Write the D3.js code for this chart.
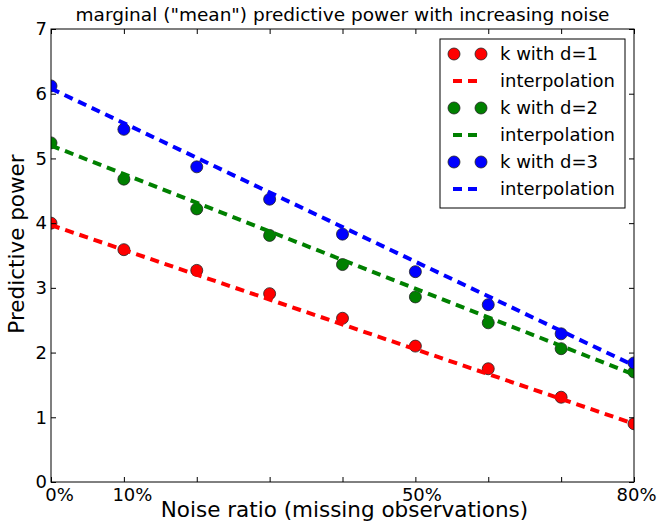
<!DOCTYPE html>
<meta charset="utf-8">
<style>
body { margin: 0; background: #fff; }
text { font-family: "DejaVu Sans", sans-serif; fill: #000; }
.frame { fill: none; stroke: #000; stroke-width: 1px; }
.fit { fill: none; stroke-width: 4px; stroke-dasharray: 9,6; }
</style>
<body>
<script src="https://d3js.org/d3.v7.min.js"></script>
<script>

var noise = [0, 0.1, 0.2, 0.3, 0.4, 0.5, 0.6, 0.7, 0.8];
var power_d1 = [4.00, 3.59, 3.27, 2.91, 2.53, 2.10, 1.75, 1.31, 0.90];
var power_d2 = [5.24, 4.68, 4.22, 3.81, 3.36, 2.86, 2.46, 2.06, 1.70];
var power_d3 = [6.12, 5.45, 4.87, 4.37, 3.83, 3.25, 2.74, 2.29, 1.84];
// interpolation lines, value at 0% and at 80%
var fitX = [0, 0.8];
var fit_d1 = [3.97, 0.90];
var fit_d2 = [5.20, 1.66];
var fit_d3 = [6.08, 1.80];
var xTicks = [0, 0.1, 0.2, 0.3, 0.4, 0.5, 0.6, 0.7, 0.8];
var xTickLabels = {0: "0%", 0.1: "10%", 0.5: "50%", 0.8: "80%"};
var yTicks = [0, 1, 2, 3, 4, 5, 6, 7];

var series = [
  {name: "k with d=1", color: "#ff0000", pts: power_d1, fit: fit_d1},
  {name: "k with d=2", color: "#008000", pts: power_d2, fit: fit_d2},
  {name: "k with d=3", color: "#0000ff", pts: power_d3, fit: fit_d3}
];

var margin = {top: 29, left: 51},
    w = 583, h = 453;

var x = d3.scaleLinear().domain([0, 0.8]).range([0, w]);
var y = d3.scaleLinear().domain([0, 7]).range([h, 0]);

var svg = d3.select("body").append("svg")
    .attr("width", 659)
    .attr("height", 522);

var g = svg.append("g")
    .attr("transform", "translate(" + margin.left + "," + margin.top + ")");

g.append("clipPath").attr("id", "clip")
  .append("rect").attr("width", w).attr("height", h);

var plot = g.append("g").attr("clip-path", "url(#clip)");

var line = d3.line()
    .x(function(d) { return x(d[0]); })
    .y(function(d) { return y(d[1]); });

series.forEach(function(s) {
  plot.selectAll(null)
      .data(s.pts)
    .enter().append("circle")
      .attr("cx", function(d, i) { return x(noise[i]); })
      .attr("cy", function(d) { return y(d); })
      .attr("r", 6)
      .style("fill", s.color)
      .style("stroke", "#222")
      .style("stroke-width", 0.8);

  plot.append("path")
      .datum(fitX.map(function(v, i) { return [v, s.fit[i]]; }))
      .attr("class", "fit")
      .style("stroke", s.color)
      .attr("d", line);
});

// frame
g.append("rect").attr("class", "frame").attr("width", w).attr("height", h);

// ticks (inward, all four sides)
var tl = 5;
var labelShift = function(d) { return d === 0.8 ? 2 : (d === 0.5 ? 6 : 8); };
g.append("g")
    .attr("transform", "translate(0," + h + ")")
    .call(d3.axisBottom(x).tickValues(xTicks).tickSizeInner(-tl).tickSizeOuter(0)
      .tickPadding(6).tickFormat(function(d) { return xTickLabels[d] || ""; }))
    .call(function(a) {
      a.select(".domain").remove();
      a.selectAll("text").attr("font-size", 18).attr("dx", labelShift)
        .style("font-family", "DejaVu Sans");
    });
g.append("g")
    .call(d3.axisTop(x).tickValues(xTicks).tickSizeInner(-tl).tickSizeOuter(0).tickFormat(""))
    .call(function(a) { a.select(".domain").remove(); });
g.append("g")
    .call(d3.axisLeft(y).tickValues(yTicks).tickSizeInner(-tl).tickSizeOuter(0)
      .tickPadding(4).tickFormat(d3.format("d")))
    .call(function(a) {
      a.select(".domain").remove();
      a.selectAll("text").attr("font-size", 18).style("font-family", "DejaVu Sans");
    });
g.append("g")
    .attr("transform", "translate(" + w + ",0)")
    .call(d3.axisRight(y).tickValues(yTicks).tickSizeInner(-tl).tickSizeOuter(0).tickFormat(""))
    .call(function(a) { a.select(".domain").remove(); });

// legend
var lg = g.append("g").attr("transform", "translate(389,10)");
lg.append("rect")
    .attr("width", 185).attr("height", 169)
    .style("fill", "#fff").style("stroke", "#000").style("stroke-width", 1);
series.forEach(function(s, i) {
  var y0 = 15 + i * 54;
  [14, 41].forEach(function(cx) {
    lg.append("circle").attr("cx", cx).attr("cy", y0).attr("r", 6)
      .style("fill", s.color).style("stroke", "#222").style("stroke-width", 0.8);
  });
  lg.append("text").attr("x", 60).attr("y", y0).attr("dy", "0.35em")
    .attr("font-size", 18).text(s.name);
  lg.append("line").attr("x1", 13).attr("x2", 38).attr("y1", y0 + 27).attr("y2", y0 + 27)
    .attr("class", "fit").style("stroke", s.color);
  lg.append("text").attr("x", 60).attr("y", y0 + 27).attr("dy", "0.35em")
    .attr("font-size", 18).text("interpolation");
});

// titles
svg.append("text")
    .attr("x", margin.left + w / 2).attr("y", 21)
    .attr("text-anchor", "middle").attr("font-size", 18.5)
    .text("marginal (\"mean\") predictive power with increasing noise");
svg.append("text")
    .attr("x", margin.left + w / 2 + 2).attr("y", 517)
    .attr("text-anchor", "middle").attr("font-size", 21.5)
    .text("Noise ratio (missing observations)");
svg.append("text")
    .attr("transform", "translate(24,244) rotate(-90)")
    .attr("text-anchor", "middle").attr("font-size", 21.5)
    .text("Predictive power");

</script>
</body>
